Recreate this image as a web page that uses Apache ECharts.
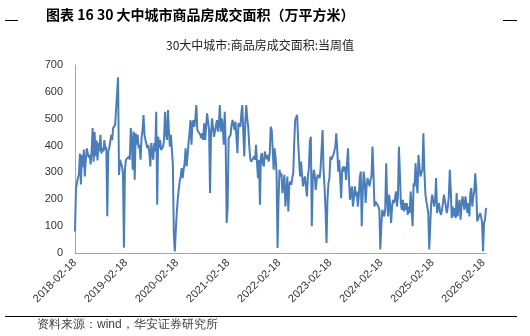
<!DOCTYPE html>
<html>
<head>
<meta charset="utf-8">
<script src="https://cdn.jsdelivr.net/npm/echarts@6/dist/echarts.min.js"></script>
<style>
  html, body { margin: 0; padding: 0; background: #fff; }
  #chart { width: 530px; height: 336px; }
</style>
</head>
<body>
<div id="chart"></div>
<script>
// 30大中城市商品房成交面积，周度（万平方米），首周 2018-02-18
const firstWeek = '2018-02-18';
const seriesName = '30大中城市:商品房成交面积:当周值';

// 每段自春节周起，至下一个春节周止
const weekly2018 = [80, 240, 262, 280, 292, 370, 255, 365, 320, 385,
  285, 345, 390, 395, 355, 365, 330, 380, 465, 340,
  450, 360, 420, 345, 410, 378, 440, 370, 390, 378,
  420, 385, 395, 137, 378, 390, 385, 440, 420, 465,
  470, 477, 483, 470, 654, 290, 347, 347, 322, 297,
  20];
const weekly2019 = [310, 347, 353, 350, 360, 347, 465, 427, 310,
  452, 273, 446, 403, 440, 390, 403, 347, 427, 458,
  514, 440, 421, 427, 390, 403, 372, 322, 409, 378,
  347, 409, 378, 526, 180, 433, 390, 421, 384, 378,
  396, 421, 526, 446, 421, 532, 452, 396, 440, 433,
  330, 70, 6];
const weekly2020 = [85, 150, 200, 236, 267, 285, 316,
  279, 310, 334, 390, 322, 359, 409, 446, 495, 403,
  483, 495, 470, 501, 551, 458, 452, 452, 440, 427,
  446, 421, 483, 421, 470, 520, 520, 458, 223, 446,
  501, 508, 433, 427, 440, 495, 452, 477, 551, 452,
  501, 470, 403, 526, 403, 112, 170];
const weekly2021 = [427, 433, 440,
  477, 495, 477, 458, 489, 483, 372, 483, 489, 470,
  520, 551, 446, 359, 483, 551, 501, 470, 403, 353,
  340, 334, 334, 359, 347, 403, 334, 279, 347, 180,
  359, 372, 334, 322, 378, 359, 350, 365, 340, 372,
  470, 458, 390, 310, 390, 353, 297, 19];
const weekly2022 = [198, 310,
  285, 297, 223, 254, 291, 173, 223, 285, 155, 254,
  266, 254, 279, 297, 408, 495, 501, 514, 421, 347,
  285, 340, 291, 248, 270, 285, 291, 211, 285, 316,
  415, 433, 100, 273, 310, 291, 235, 273, 291, 297,
  279, 316, 310, 458, 310, 248, 161, 37];
const weekly2023 = [198, 260,
  279, 359, 347, 353, 365, 380, 396, 446, 384, 303,
  347, 353, 204, 310, 322, 303, 322, 272, 334, 390,
  272, 198, 204, 248, 173, 204, 248, 211, 229, 173,
  211, 279, 303, 100, 223, 303, 272, 186, 248, 279,
  272, 248, 272, 285, 396, 300, 173];
const weekly2024 = [192, 186, 198,
  173, 160, 13, 100, 161, 149, 136, 161, 334, 198,
  136, 217, 186, 112, 170, 198, 186, 204, 229, 173,
  211, 396, 297, 186, 161, 198, 155, 186, 161, 186,
  142, 173, 149, 229, 229, 100, 260, 248, 334, 266,
  223, 365, 322, 285, 285, 310, 446, 310, 223, 192,
  173, 149, 13];
const weekly2025 = [100, 186, 217, 211, 173, 198, 279,
  149, 149, 186, 155, 142, 161, 186, 217, 211, 173,
  149, 173, 211, 310, 235, 130, 173, 136, 167, 130,
  223, 136, 173, 198, 124, 173, 211, 204, 161, 211,
  204, 149, 186, 136, 223, 242, 173, 211, 230, 297,
  242, 118, 124, 124, 149, 136, 112, 7, 112, 124,
  168];

// x 轴刻度标签
const tickLabels = ['2018-02-18', '2019-02-18', '2020-02-18', '2021-02-18', '2022-02-18',
  '2023-02-18', '2024-02-18', '2025-02-18', '2026-02-18'];
const axisEnd = '2026-03-08';

function toUTC(s) {
  const p = s.split('-').map(Number);
  return Date.UTC(p[0], p[1] - 1, p[2]);
}
function fmt(ts) {
  const d = new Date(ts);
  const mm = String(d.getUTCMonth() + 1).padStart(2, '0');
  const dd = String(d.getUTCDate()).padStart(2, '0');
  return d.getUTCFullYear() + '-' + mm + '-' + dd;
}

const values = [].concat(weekly2018, weekly2019, weekly2020, weekly2021,
  weekly2022, weekly2023, weekly2024, weekly2025);
const WEEK = 7 * 24 * 3600 * 1000;
const start = toUTC(firstWeek);
const points = values.map((v, i) => [start + i * WEEK, v]);

const chart = echarts.init(document.getElementById('chart'), null, { renderer: 'canvas' });
const labelFont = 'Liberation Sans, Arial, sans-serif';
const cjkFont = '"Noto Sans CJK SC", sans-serif';

chart.setOption({
  animation: false,
  title: [
    {
      text: '图表 16 30 大中城市商品房成交面积（万平方米）',
      left: 41, top: 3,
      textStyle: { fontSize: 14, fontWeight: 'bold', color: '#000', fontFamily: cjkFont }
    },
    {
      text: seriesName,
      left: 161, top: 34,
      textStyle: { fontSize: 12, fontWeight: 'normal', color: '#222', fontFamily: cjkFont }
    }
  ],
  grid: { left: 75, right: 44, top: 65, bottom: 83, containLabel: false, outerBoundsMode: 'none' },
  xAxis: {
    // 时间戳数值轴，刻度落在每年 02-18
    type: 'value',
    min: toUTC(firstWeek),
    max: toUTC(axisEnd),
    splitLine: { show: false },
    axisTick: { show: false },
    axisLine: { show: true, lineStyle: { color: '#A6A6A6', width: 1 } },
    axisLabel: {
      customValues: tickLabels.map(toUTC),
      formatter: (v) => fmt(v),
      rotate: 45,
      margin: 8,
      fontSize: 11,
      color: '#333',
      fontFamily: labelFont
    }
  },
  yAxis: {
    type: 'value',
    min: 0, max: 700, interval: 100,
    splitLine: { show: false },
    axisTick: { show: false },
    axisLine: { show: true, lineStyle: { color: '#A6A6A6', width: 1 } },
    axisLabel: { fontSize: 11, color: '#333', margin: 12, fontFamily: labelFont }
  },
  series: [{
    name: seriesName,
    type: 'line',
    data: points,
    showSymbol: false,
    lineStyle: { color: '#4A7EBB', width: 2 },
    itemStyle: { color: '#4A7EBB' }
  }],
  graphic: [
    { type: 'line', shape: { x1: 5, y1: 20.5, x2: 18, y2: 20.5 }, style: { stroke: '#000', lineWidth: 1 } },
    { type: 'line', shape: { x1: 503, y1: 20.5, x2: 517, y2: 20.5 }, style: { stroke: '#000', lineWidth: 1 } },
    { type: 'line', shape: { x1: 5, y1: 316.5, x2: 517, y2: 316.5 }, style: { stroke: '#000', lineWidth: 1 } },
    {
      type: 'text', left: 37, top: 319,
      style: { text: '资料来源：wind，华安证券研究所', fontSize: 12, fill: '#404040', font: '12px ' + cjkFont }
    }
  ]
});
</script>
</body>
</html>
